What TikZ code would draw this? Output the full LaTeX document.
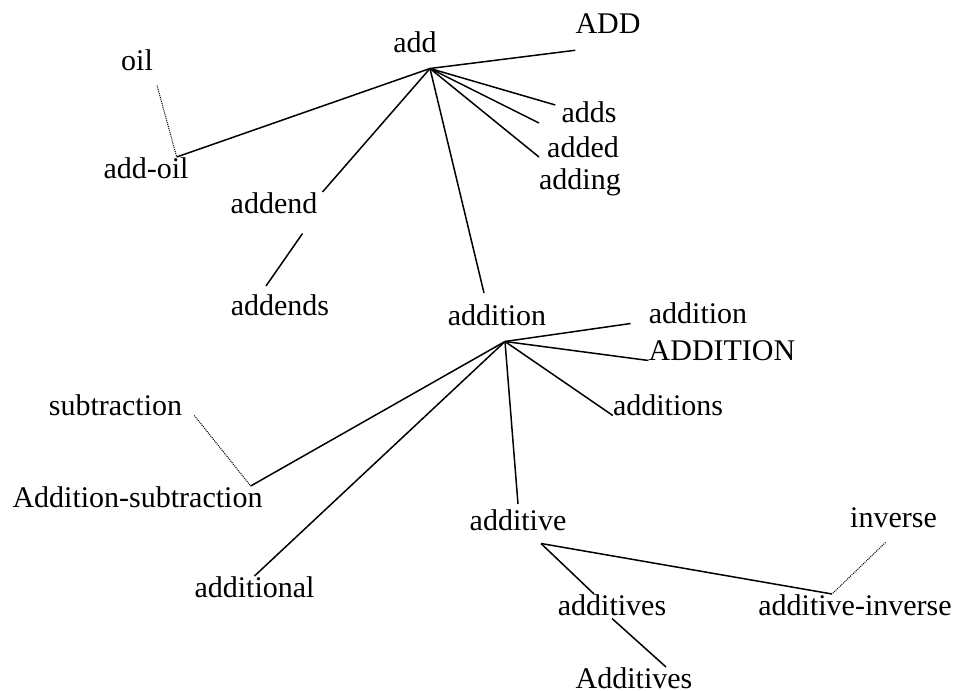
\documentclass[tikz,border=0pt]{standalone}
\usepackage{fontspec}
\setmainfont{Liberation Serif}
\usepackage{tikz}
\usetikzlibrary{positioning,calc}

\begin{document}
\begin{tikzpicture}[
                    x=1pt, y=-1pt,
                    word/.style={inner sep=0pt, anchor=base, font=\fontsize{30}{36}\selectfont},
                    link/.style={line width=1.5pt},
                    hint/.style={densely dotted, line width=1pt}
                ]
                    \useasboundingbox (0,0) rectangle (954,691);
                    % upper family
                    \node[word] (ADD) at (608,33) {ADD};
                    \node[word] (add) at (415,52) {add};
                    \node[word] (oil) at (137,70) {oil};
                    \node[word] (addoil) at (146,178) {add-oil};
                    \node[word] (adds) at (589,122) {adds};
                    \node[word] (added) at (583,157) {added};
                    \node[word] (adding) at (580,189) {adding};
                    \node[word] (addend) at (274,213) {addend};
                    \node[word] (addends) at (280,315) {addends};
                    % lower family
                    \node[word] (addition) at (497,325) {addition};
                    \node[word] (additionR) at (698,323) {addition};
                    \node[word] (ADDITION) at (722,360) {ADDITION};
                    \node[word] (additions) at (668,415) {additions};
                    \node[word] (subtraction) at (115.5,415) {subtraction};
                    \node[word] (addsub) at (137.5,507) {Addition-subtraction};
                    \node[word] (additive) at (518,530) {additive};
                    \node[word] (additional) at (254.5,597) {additional};
                    \node[word] (inverse) at (893.5,527) {inverse};
                    \node[word] (addinv) at (855,615) {additive-inverse};
                    \node[word] (additives) at (612,615) {additives};
                    \node[word] (Additives) at (634,688) {Additives};

                    \coordinate (hubAdd) at ([xshift=15pt,yshift=-16pt]add.south);
                    \coordinate (hubAdn) at ([xshift=8pt,yshift=-16pt]addition.south);
                    \coordinate (hubAdv) at ([xshift=23pt,yshift=-13pt]additive.south);
                    \coordinate (addoilTip) at ([xshift=-12pt]addoil.north east);
                    \coordinate (addsubTip) at ([xshift=-12pt]addsub.north east);
                    \coordinate (addinvTip) at ([xshift=-23pt]addinv.north);

                    \draw[link] (hubAdd) -- ([yshift=-17pt]ADD.south west);
                    \draw[link] (hubAdd) -- ([xshift=-6pt,yshift=-4pt]adds.north west);
                    \draw[link] (hubAdd) -- ([xshift=-8pt,yshift=13pt]added.north west);
                    \draw[link] (hubAdd) -- ([yshift=11pt]adding.north west);
                    \draw[link] (hubAdd) -- (addoilTip);
                    \draw[hint] ([xshift=4pt,yshift=-15pt]oil.south east) -- (addoilTip);
                    \draw[link] (hubAdd) -- ([xshift=5pt]addend.north east);
                    \draw[link] ([xshift=-15pt,yshift=-20pt]addend.south east) -- ([xshift=-14pt,yshift=8pt]addends.north);
                    \draw[link] (hubAdd) -- ([xshift=-13pt,yshift=11pt]addition.north);

                    \draw[link] (hubAdn) -- ([xshift=-18pt]additionR.south west);
                    \draw[link] (hubAdn) -- (ADDITION.south west);
                    \draw[link] (hubAdn) -- (additions.south west);
                    \draw[link] (hubAdn) -- (addsubTip);
                    \draw[hint] ([xshift=12pt]subtraction.south east) -- (addsubTip);
                    \draw[link] (hubAdn) -- (additional.north);
                    \draw[link] (hubAdn) -- ([yshift=5pt]additive.north);

                    \draw[link] (hubAdv) -- ([xshift=-18pt]additives.north);
                    \draw[link] (hubAdv) -- (addinvTip);
                    \draw[hint] ([xshift=-8pt,yshift=-15pt]inverse.south) -- (addinvTip);
                    \draw[link] ([yshift=-3pt]additives.south) -- ([xshift=32pt]Additives.north);
                \end{tikzpicture}
\end{document}
